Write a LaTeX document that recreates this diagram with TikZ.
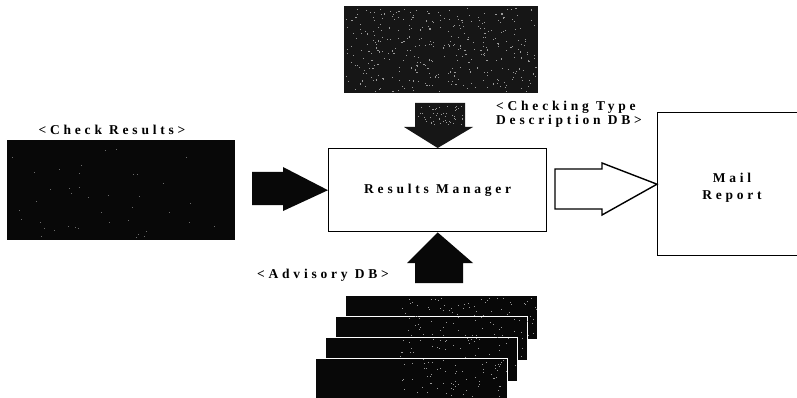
\documentclass[tikz,border=0pt]{standalone}
\usepackage{fontspec}
\setmainfont{Liberation Serif}
\newfontfamily\lbl[LetterSpace=28]{Liberation Serif}
\definecolor{ink}{HTML}{080808}
\definecolor{dk}{HTML}{161616}
\definecolor{speck}{HTML}{9A9A9A}
\begin{document}
\begin{tikzpicture}[x=1pt,y=-1pt,
  darkbox/.style={fill=dk,draw=none},
  blackbox/.style={fill=ink,draw=none},
  sheet/.style={fill=ink,draw=white,line width=1pt},
  framebox/.style={draw=black,line width=1.4pt,fill=white},
  lab/.style={font=\lbl\bfseries\fontsize{13.5}{16}\selectfont,inner sep=0pt},
  blockarrow/.style={fill=ink,draw=none},
  hollowarrow/.style={draw=black,line width=1.4pt,fill=white,line join=miter}]
\useasboundingbox (0,0) rectangle (797,398);
\pgfmathsetseed{7}

% top dark box (Checking Type Description DB)
\node[darkbox,minimum width=194pt,minimum height=87pt,anchor=north west] (ctdb) at (344,6) {};
\foreach \i in {1,...,350} {\fill[speck] ({346+190*rnd},{8+83*rnd}) rectangle +(1.1,1.1);}

% check results box
\node[blackbox,minimum width=228pt,minimum height=100pt,anchor=north west] (chk) at (7,140) {};
\foreach \i in {1,...,40} {\fill[speck!70!black] ({9+224*rnd},{142+96*rnd}) rectangle +(1,1);}

% results manager
\node[framebox,minimum width=218pt,minimum height=83pt,anchor=north west] (rm) at (328,148) {};
\node[lab] (rmt) at (rm.center) {Results Manager};

% mail report
\node[framebox,minimum width=160pt,minimum height=143pt,anchor=north west] (mail) at (657,112) {};
\node[lab,align=center] (mailt) at (732,188) {Mail\\[1pt]Report};

% advisory DB stack
\node[sheet,minimum width=192pt,minimum height=44pt,anchor=north west] (s1) at (345,295) {};
\node[sheet,minimum width=192pt,minimum height=44pt,anchor=north west] (s2) at (335,316) {};
\node[sheet,minimum width=192pt,minimum height=44pt,anchor=north west] (s3) at (325,337) {};
\node[sheet,minimum width=192pt,minimum height=44pt,anchor=north west] (s4) at (315,358) {};
\begin{scope}
  \clip (345,296) rectangle (537,338) (335,317) rectangle (527,359) (325,338) rectangle (517,380) (315,359) rectangle (507,398);
  \foreach \i in {1,...,220} {\fill[speck] ({400+140*rnd},{297+100*rnd}) rectangle +(1,1);}
\end{scope}

% labels
\node[lab] (lchk) at (112,130) {<Check Results>};
\node[lab,anchor=west] (lct1) at (496,107) {<Checking Type};
\node[lab,anchor=west] (lct2) at (496,121) {Description DB>};
\node[lab] (ladv) at (323,275) {<Advisory DB>};

% block arrows
\fill[blockarrow] (252,172) -- (283,172) -- (283,167) -- (rm.west) -- (283,211) -- (283,205) -- (252,205) -- cycle;
\fill[dk] (415,103) -- (465,103) -- (465,127) -- (473,127) -- (rm.north) -- (404,127) -- (415,127) -- cycle;
\begin{scope}
  \clip (415,103) rectangle (465,127);
  \foreach \i in {1,...,50} {\fill[speck] ({417+46*rnd},{105+20*rnd}) rectangle +(1,1);}
\end{scope}
\fill[blockarrow] (415,283) -- (415,263) -- (407,263) -- (rm.south) -- (473,263) -- (463,263) -- (463,283) -- cycle;
\draw[hollowarrow] (555,169) -- (602,169) -- (602,163) -- (mail.west) -- (602,215) -- (602,209) -- (555,209) -- cycle;
\end{tikzpicture}
\end{document}
